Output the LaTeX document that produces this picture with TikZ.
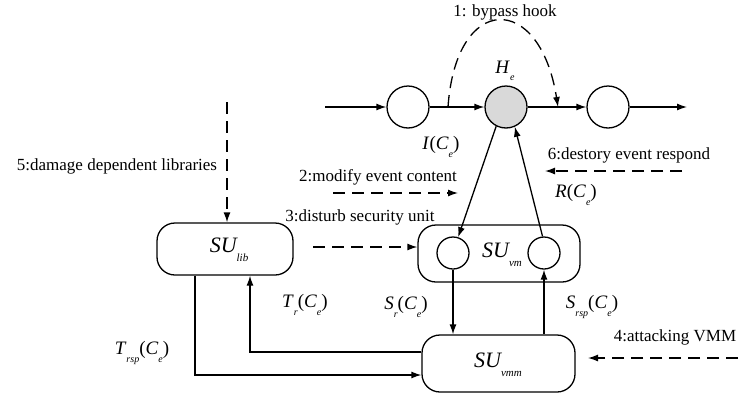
\documentclass[tikz,border=0pt]{standalone}
\usepackage{fontspec}
\setmainfont{Liberation Serif}
\usetikzlibrary{arrows.meta}
\newcommand{\mysub}[1]{\raisebox{-0.4em}{\fontsize{10}{10}\selectfont\itshape #1}}
\newcommand{\bigsub}[1]{\raisebox{-0.4em}{\fontsize{11}{11}\selectfont\itshape #1}}
\begin{document}
\begin{tikzpicture}[x=1pt,y=-1pt,
  line width=1.3pt,
  >={Latex[length=10pt,width=7pt]},
  ev/.style={circle,draw,minimum size=42pt,inner sep=0pt},
  inner/.style={circle,draw,minimum size=32pt,inner sep=0pt},
  unit/.style={draw,rounded corners=18pt,inner sep=0pt},
  txt/.style={font=\fontsize{17}{20}\selectfont,inner sep=0pt},
  mlab/.style={font=\fontsize{19}{22}\selectfont,inner sep=0pt},
  sulab/.style={font=\fontsize{22}{24}\selectfont\itshape,inner sep=0pt},
  dsh/.style={dash pattern=on 12pt off 7pt}]
\useasboundingbox (0,0) rectangle (739,394);

% top event chain
\coordinate (inS) at (325,107);
\node[ev] (c1) at (408,107) {};
\node[ev,fill={rgb,255:red,217;green,217;blue,217}] (he) at (506,107) {};
\node[ev] (c3) at (608,107) {};
\coordinate (outE) at (687,107);
\draw[->] (inS) -- (c1);
\draw[->] (c1) -- (he);
\draw[->] (he) -- (c3);
\draw[->] (c3) -- (outE);
\node[mlab] (helab) at (505,71) {\textit{H}\mysub{e}};

% bypass hook
\coordinate (bpS) at (448,107);
\coordinate (bpE) at (558,107);
\draw[dsh,->] (bpS) .. controls (456,-8) and (540,-8) .. (bpE);
\node[txt] (t1) at (505,12) {1: bypass hook};

% SU_vm
\node[unit,minimum width=162pt,minimum height=57pt] (suvm) at (499,253.5) {};
\node[inner] (v1) at (453,253) {};
\node[inner] (v2) at (544,253) {};
\node[sulab] (suvmlab) at (502,255) {SU\bigsub{vm}};

% SU_vmm
\node[unit,minimum width=153pt,minimum height=57pt] (suvmm) at (498.5,363.5) {};
\node[sulab] (suvmmlab) at (498,365) {SU\bigsub{vmm}};

% SU_lib
\node[unit,minimum width=136pt,minimum height=52pt] (sulib) at (225,249) {};
\node[sulab] (suliblab) at (229,250) {SU\bigsub{lib}};

% He <-> SU_vm
\draw[->] (he.243) -- (v1.72);
\draw[->] (v2.95) -- (he.-66);
\draw[->] (v1.south) -- (v1.south |- suvmm.north);
\draw[->] (v2.south |- suvmm.north) -- (v2.south);

% T paths
\coordinate (tr1) at (250,352);
\draw[->] (suvmm.west |- tr1) -- (tr1) -- (tr1 |- sulib.south);
\coordinate (trsp) at (195,375);
\draw[->] (trsp |- sulib.south) -- (trsp) -- (suvmm.west |- trsp);

% labels
\node[mlab] (lI) at (441,147) {\textit{I}(\textit{C}\mysub{e})};
\node[mlab] (lR) at (576,195) {\textit{R}(\textit{C}\mysub{e})};
\node[mlab] (lSr) at (406,307) {\textit{S}\mysub{r}(\textit{C}\mysub{e})};
\node[mlab] (lSrsp) at (592,307) {\textit{S}\mysub{rsp}(\textit{C}\mysub{e})};
\node[mlab] (lTr) at (305,305) {\textit{T}\mysub{r}(\textit{C}\mysub{e})};
\node[mlab] (lTrsp) at (142,353) {\textit{T}\mysub{rsp}(\textit{C}\mysub{e})};

% attacks
\node[txt] (t6) at (629,155) {6:destory event respond};
\coordinate (a6s) at (682,171);
\coordinate (a6e) at (545,171);
\draw[dsh,->] (a6s) -- (a6e);

\node[txt] (t2) at (378,177) {2:modify event content};
\coordinate (a2s) at (333,193);
\coordinate (a2e) at (458,193);
\draw[dsh,->] (a2s) -- (a2e);

\node[txt] (t5) at (117,166) {5:damage dependent libraries};
\coordinate (a5s) at (227,102);
\draw[dsh,->] (a5s) -- (a5s |- sulib.north);

\node[txt] (t3) at (360,217) {3:disturb security unit};
\coordinate (a3s) at (313,247);
\draw[dsh,->] (a3s) -- (a3s -| suvm.west);

\node[txt] (t4) at (675,337) {4:attacking VMM};
\coordinate (a4s) at (738,358);
\coordinate (a4e) at (588,358);
\draw[dsh,->] (a4s) -- (a4e);
\end{tikzpicture}
\end{document}
